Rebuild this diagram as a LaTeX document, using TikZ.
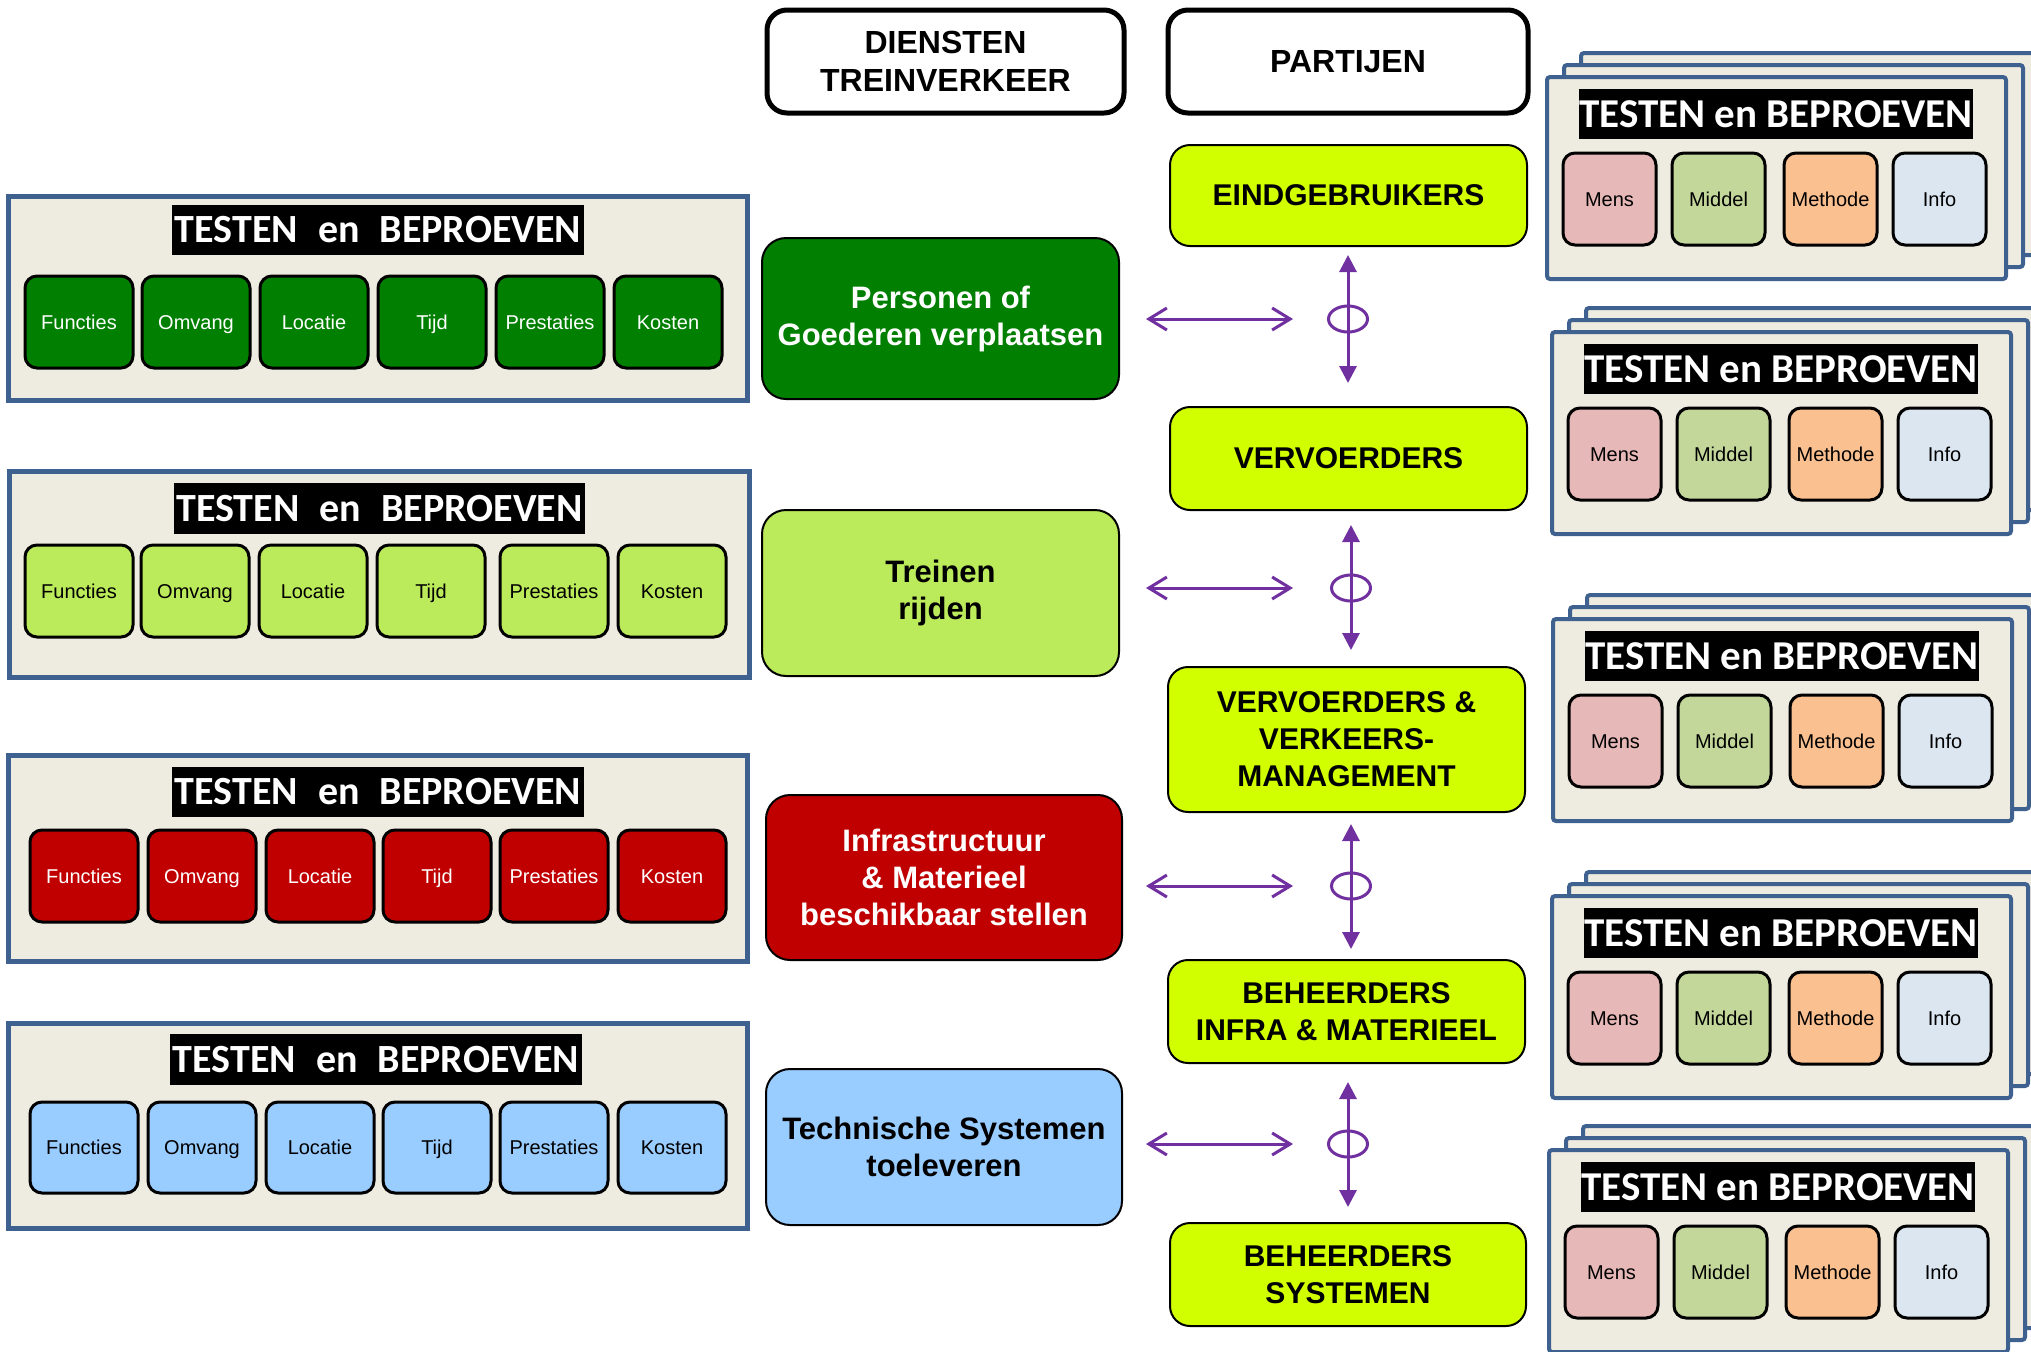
\documentclass[tikz,border=0pt]{standalone}
\usepackage{fontspec}
\setmainfont{Liberation Sans}
\newfontfamily\calib{Carlito}
\usetikzlibrary{arrows.meta}
\definecolor{panelfill}{HTML}{EEEBE0}
\definecolor{panelline}{HTML}{3F6190}
\definecolor{dgreen}{HTML}{007F00}
\definecolor{lgreen}{HTML}{BBEA5B}
\definecolor{dred}{HTML}{C00000}
\definecolor{lblue}{HTML}{99CCFF}
\definecolor{limey}{HTML}{D2FF00}
\definecolor{purp}{HTML}{7030A0}
\definecolor{mensc}{HTML}{E6B8B7}
\definecolor{middelc}{HTML}{C4D79B}
\definecolor{methodec}{HTML}{FAC090}
\definecolor{infoc}{HTML}{DCE6F1}
\newcommand\ttll{{\calib\bfseries\fontsize{20}{24}\selectfont\color{white}TESTEN\hspace{0.5em}en\hspace{0.5em}BEPROEVEN}}
\newcommand\ttlr{{\calib\bfseries\fontsize{20.5}{24}\selectfont\color{white}TESTEN en BEPROEVEN}}
\newcommand\rstk[3]{%
 \node[rpanel, bx={#2+34}{#3-24}{#2+493}{#3+178}] (#1c) {};
 \node[rpanel, bx={#2+17}{#3-12}{#2+476}{#3+190}] (#1b) {};
 \node[rpanel, bx={#2}{#3}{#2+459}{#3+202}] (#1a) {};
 \node[tbar, bx={#2+32}{#3+12}{#2+426}{#3+62}] (#1t) {\ttlr};
 \node[sbox, fill=mensc, bx={#2+16}{#3+76}{#2+109}{#3+168}] (#1m) {Mens};
 \node[sbox, fill=middelc, bx={#2+125}{#3+76}{#2+218}{#3+168}] (#1d) {Middel};
 \node[sbox, fill=methodec, bx={#2+237}{#3+76}{#2+330}{#3+168}] (#1h) {Methode};
 \node[sbox, fill=infoc, bx={#2+346}{#3+76}{#2+439}{#3+168}] (#1i) {Info};
}
\begin{document}
\begin{tikzpicture}[x=0.5pt,y=-0.5pt,
  bx/.style n args={4}{at={({((#1)+(#3))/2},{((#2)+(#4))/2})}, minimum width={((#3)-(#1))*0.5pt}, minimum height={((#4)-(#2))*0.5pt}},
  lpanel/.style={draw=panelline, fill=panelfill, line width=2.5pt, inner sep=0},
  rpanel/.style={draw=panelline, fill=panelfill, line width=2pt, inner sep=0, rounded corners=1.5pt},
  tbar/.style={fill=black, inner sep=0},
  sbox/.style={draw=black, line width=1.5pt, rounded corners=6pt, inner sep=0, text height=8.2pt, text depth=1pt, font=\fontsize{10}{12}\selectfont},
  mbox/.style={draw=black, line width=1pt, rounded corners=12pt, inner sep=0, align=center, font=\bfseries\fontsize{15.5}{18.5}\selectfont},
  ybox/.style={draw=black, fill=limey, line width=1pt, rounded corners=10pt, inner sep=0, align=center, font=\bfseries\fontsize{15}{18.5}\selectfont},
  hbox/.style={draw=black, fill=white, line width=2.5pt, rounded corners=10pt, inner sep=0, align=center, font=\bfseries\fontsize{16}{19}\selectfont},
  harrow/.style={draw=purp, line width=1.5pt, {Straight Barb[length=9pt,width=11pt]}-{Straight Barb[length=9pt,width=11pt]}},
  varrow/.style={draw=purp, line width=1.5pt, {Triangle[length=8.5pt,width=8.5pt]}-{Triangle[length=8.5pt,width=8.5pt]}},
  ell/.style={draw=purp, line width=1.5pt}]
\clip (0,0) rectangle (2031,1351);
\fill[white] (0,0) rectangle (2031,1351);

% ---------- left panels ----------
\node[lpanel, bx={8}{196}{747}{400}] (p1) {};
\node[tbar, bx={172}{205}{584}{255}] (p1t) {\ttll};
\foreach \x/\lab [count=\i] in {25/Functies,142/Omvang,260/Locatie,378/Tijd,496/Prestaties,614/Kosten}
  \node[sbox, fill=dgreen, text=white, bx={\x}{276}{\x+108}{368}] (p1b\i) {\lab};

\node[lpanel, bx={9}{471}{749}{677}] (p2) {};
\node[tbar, bx={174}{483}{585}{534}] (p2t) {\ttll};
\foreach \x/\lab [count=\i] in {25/Functies,141/Omvang,259/Locatie,377/Tijd,500/Prestaties,618/Kosten}
  \node[sbox, fill=lgreen, text=black, bx={\x}{545}{\x+108}{637}] (p2b\i) {\lab};

\node[lpanel, bx={8}{755}{747}{961}] (p3) {};
\node[tbar, bx={172}{767}{584}{817}] (p3t) {\ttll};
\foreach \x/\lab [count=\i] in {30/Functies,148/Omvang,266/Locatie,383/Tijd,500/Prestaties,618/Kosten}
  \node[sbox, fill=dred, text=white, bx={\x}{830}{\x+108}{922}] (p3b\i) {\lab};

\node[lpanel, bx={8}{1023}{747}{1228}] (p4) {};
\node[tbar, bx={170}{1034}{582}{1085}] (p4t) {\ttll};
\foreach \x/\lab [count=\i] in {30/Functies,148/Omvang,266/Locatie,383/Tijd,500/Prestaties,618/Kosten}
  \node[sbox, fill=lblue, text=black, bx={\x}{1102}{\x+108}{1193}] (p4b\i) {\lab};

% ---------- middle column ----------
\node[hbox, bx={767}{10}{1124}{113}] (dt) {DIENSTEN\\TREINVERKEER};
\node[mbox, fill=dgreen, text=white, bx={762}{238}{1119}{399}] (pers) {Personen of\\Goederen verplaatsen};
\node[mbox, fill=lgreen, text=black, bx={762}{510}{1119}{676}] (trein) {Treinen\\rijden};
\node[mbox, fill=dred, text=white, bx={766}{795}{1122}{960}] (infra) {Infrastructuur\\\& Materieel\\beschikbaar stellen};
\node[mbox, fill=lblue, text=black, bx={766}{1069}{1122}{1225}] (tech) {Technische Systemen\\toeleveren};

% ---------- partijen column ----------
\node[hbox, bx={1168}{10}{1528}{113}] (part) {PARTIJEN};
\node[ybox, bx={1170}{145}{1527}{246}] (eind) {EINDGEBRUIKERS};
\node[ybox, bx={1170}{407}{1527}{510}] (verv) {VERVOERDERS};
\node[ybox, bx={1168}{667}{1525}{812}] (vvm) {VERVOERDERS \&\\VERKEERS-\\MANAGEMENT};
\node[ybox, bx={1168}{960}{1525}{1063}] (beh) {BEHEERDERS\\INFRA \& MATERIEEL};
\node[ybox, bx={1170}{1223}{1526}{1326}] (bsys) {BEHEERDERS\\SYSTEMEN};

% ---------- arrows ----------
\foreach \i/\y/\vx/\va/\vb in {1/319/1348/255/383, 2/588/1351/525/650, 3/886/1351/824/949, 4/1144/1348/1082/1207}{
  \coordinate (h\i a) at (1146,\y);
  \coordinate (h\i b) at (1293,\y);
  \coordinate (v\i a) at (\vx,\va);
  \coordinate (v\i b) at (\vx,\vb);
  \coordinate (e\i) at (\vx,\y);
  \draw[harrow] (h\i a) -- (h\i b);
  \draw[varrow] (v\i a) -- (v\i b);
  \draw[ell] (e\i) ellipse [x radius=9.75pt, y radius=6.5pt];
}

% ---------- right stacks ----------
\rstk{r1}{1547}{77}
\rstk{r2}{1552}{332}
\rstk{r3}{1553}{619}
\rstk{r4}{1552}{896}
\rstk{r5}{1549}{1150}
\end{tikzpicture}
\end{document}
